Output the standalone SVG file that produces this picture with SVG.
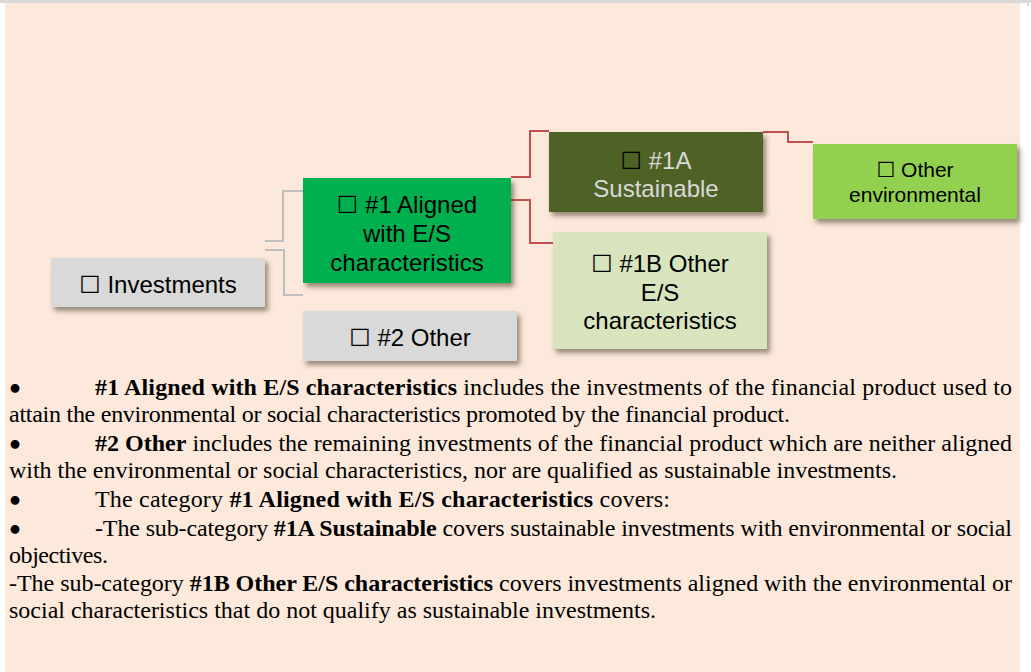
<svg xmlns="http://www.w3.org/2000/svg" width="1031" height="672" viewBox="0 0 1031 672">
<style>
.bx{font-family:"Liberation Sans","DejaVu Sans",Arial,sans-serif;font-size:24px;text-anchor:middle;fill:#000}
.p{font-family:"Liberation Serif","Times New Roman",serif;font-size:24px;fill:#000}
.bu{font-family:"DejaVu Sans",sans-serif;font-size:25px;font-weight:bold;fill:#000}
.b{font-weight:bold}
.gc{fill:none;stroke:#BFBFBF;stroke-width:2}
.rc{fill:none;stroke:#C0504D;stroke-width:2}
</style>
<defs>
<filter id="sh" x="-10%" y="-20%" width="130%" height="150%">
<feDropShadow dx="3" dy="4" stdDeviation="2.5" flood-color="#4a3a2a" flood-opacity="0.55"/>
</filter>
</defs>
<rect x="0" y="0" width="1031" height="672" fill="#FFFFFF"/>
<rect x="5" y="3" width="1015" height="669" fill="#FCE9DB"/>
<rect x="0" y="0" width="1031" height="3" fill="#D9D9D9"/>
<rect x="1027" y="0" width="2" height="6" fill="#D9D9D9"/>

<g id="connectors">
<path class="gc" d="M265,241 H283 V191 H303"/>
<path class="gc" d="M265,250 H284 V295 H303"/>
<path class="rc" d="M511,177 H530 V131 H549"/>
<path class="rc" d="M511,200 H530 V243 H553"/>
<path class="rc" d="M763,132 H788 V142 H813"/>
</g>

<g id="investments">
<rect x="51" y="258" width="214" height="49" fill="#D9D9D9" filter="url(#sh)"/>
<text class="bx" x="158" y="293">☐ Investments</text>
</g>
<g id="aligned">
<rect x="303" y="178" width="208" height="105" fill="#00B050" filter="url(#sh)"/>
<text class="bx" x="407" y="213">☐ #1 Aligned</text>
<text class="bx" x="407" y="242">with E/S</text>
<text class="bx" x="407" y="271">characteristics</text>
</g>
<g id="other2">
<rect x="303" y="311" width="214" height="50" fill="#D9D9D9" filter="url(#sh)"/>
<text class="bx" x="410" y="346">☐ #2 Other</text>
</g>
<g id="sustainable">
<rect x="549" y="132" width="214" height="80" fill="#4F6228" filter="url(#sh)"/>
<text class="bx" x="656" y="169" style="fill:#D9D9D9"><tspan fill="#000">☐</tspan> #1A</text>
<text class="bx" x="656" y="197" style="fill:#D9D9D9">Sustainable</text>
</g>
<g id="otheres">
<rect x="553" y="232" width="214" height="117" fill="#D7E4BD" filter="url(#sh)"/>
<text class="bx" x="660" y="272">☐ #1B Other</text>
<text class="bx" x="660" y="301">E/S</text>
<text class="bx" x="660" y="329">characteristics</text>
</g>
<g id="otherenv">
<rect x="813" y="144" width="204" height="75" fill="#92D050" filter="url(#sh)"/>
<text class="bx" x="915" y="177" style="font-size:21px">☐ Other</text>
<text class="bx" x="915" y="202" style="font-size:21px">environmental</text>
</g>

<g id="notes">
<text class="bu" x="7" y="398">•</text>
<text class="p" x="95" y="395" textLength="917" lengthAdjust="spacing"><tspan class="b">#1 Aligned with E/S characteristics</tspan> includes the investments of the financial product used to</text>
<text class="p" x="9" y="422" textLength="781" lengthAdjust="spacing">attain the environmental or social characteristics promoted by the financial product.</text>
<text class="bu" x="7" y="454">•</text>
<text class="p" x="95" y="451" textLength="917" lengthAdjust="spacing"><tspan class="b">#2 Other</tspan> includes the remaining investments of the financial product which are neither aligned</text>
<text class="p" x="9" y="478" textLength="888" lengthAdjust="spacing">with the environmental or social characteristics, nor are qualified as sustainable investments.</text>
<text class="bu" x="7" y="510">•</text>
<text class="p" x="95" y="507" textLength="575" lengthAdjust="spacing">The category <tspan class="b">#1 Aligned with E/S characteristics</tspan> covers:</text>
<text class="bu" x="7" y="539">•</text>
<text class="p" x="95" y="536" textLength="917" lengthAdjust="spacing">-The sub-category <tspan class="b">#1A Sustainable</tspan> covers sustainable investments with environmental or social</text>
<text class="p" x="9" y="563" textLength="99" lengthAdjust="spacing">objectives.</text>
<text class="p" x="9" y="591" textLength="1003" lengthAdjust="spacing">-The sub-category <tspan class="b">#1B Other E/S characteristics</tspan> covers investments aligned with the environmental or</text>
<text class="p" x="9" y="618" textLength="647" lengthAdjust="spacing">social characteristics that do not qualify as sustainable investments.</text>
</g>
</svg>
